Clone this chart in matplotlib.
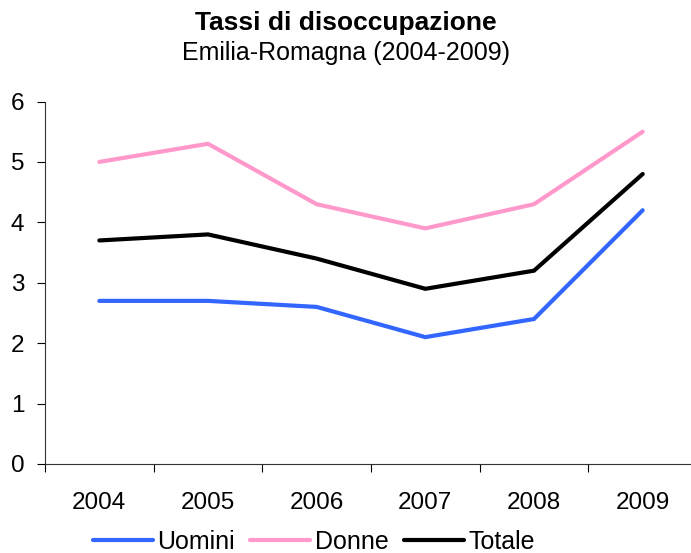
import matplotlib
matplotlib.use("Agg")
import matplotlib.pyplot as plt

plt.rcParams['font.family'] = ['Liberation Sans', 'DejaVu Sans']

years = ["2004", "2005", "2006", "2007", "2008", "2009"]
uomini = [2.7, 2.7, 2.6, 2.1, 2.4, 4.2]
donne = [5.0, 5.3, 4.3, 3.9, 4.3, 5.5]
totale = [3.7, 3.8, 3.4, 2.9, 3.2, 4.8]

fig = plt.figure(figsize=(6.91, 5.53), dpi=100)
ax = fig.add_axes([45/691, 1-464/553, (697-45)/691, (464-101.5)/553])

x = list(range(len(years)))
lw = 3.0
l1, = ax.plot(x, uomini, color="#3366FF", lw=lw, solid_capstyle="round", solid_joinstyle="miter", label="Uomini")
l2, = ax.plot(x, donne, color="#FF99CC", lw=lw, solid_capstyle="round", solid_joinstyle="miter", label="Donne")
l3, = ax.plot(x, totale, color="#000000", lw=lw, solid_capstyle="round", solid_joinstyle="miter", label="Totale")

ax.set_xlim(-0.5, len(years) - 0.5)
ax.set_ylim(0, 6)
ax.set_yticks(range(0, 7))
ax.set_xticks([i - 0.5 for i in range(len(years) + 1)])
ax.set_xticklabels([])
ax.set_xticks(x, minor=True)
ax.set_xticklabels(years, minor=True)
ax.tick_params(axis='x', which='minor', length=0, labelsize=17.5, pad=20)
ax.tick_params(axis='x', which='major', length=6, width=0.8, direction='out')
ax.tick_params(axis='y', length=6, width=0.8, direction='out', labelsize=17.5, pad=9)

for s in ['top', 'right']:
    ax.spines[s].set_visible(False)
for s in ['left', 'bottom']:
    ax.spines[s].set_linewidth(0.8)
    ax.spines[s].set_color("#333333")

fig.text(0.5, 1-23/553, "Tassi di disoccupazione", ha='center', va='center', fontsize=19, fontweight='bold')
fig.text(0.5, 1-53/553, "Emilia-Romagna (2004-2009)", ha='center', va='center', fontsize=18)

fig.legend(handles=[l1, l2, l3], loc='center', bbox_to_anchor=(314/691, 1-542/553), ncol=3,
           frameon=False, fontsize=18, handlelength=2.4, handletextpad=0.2, columnspacing=0.6,
           borderaxespad=0, borderpad=0)

fig.savefig("out.png", dpi=100)
